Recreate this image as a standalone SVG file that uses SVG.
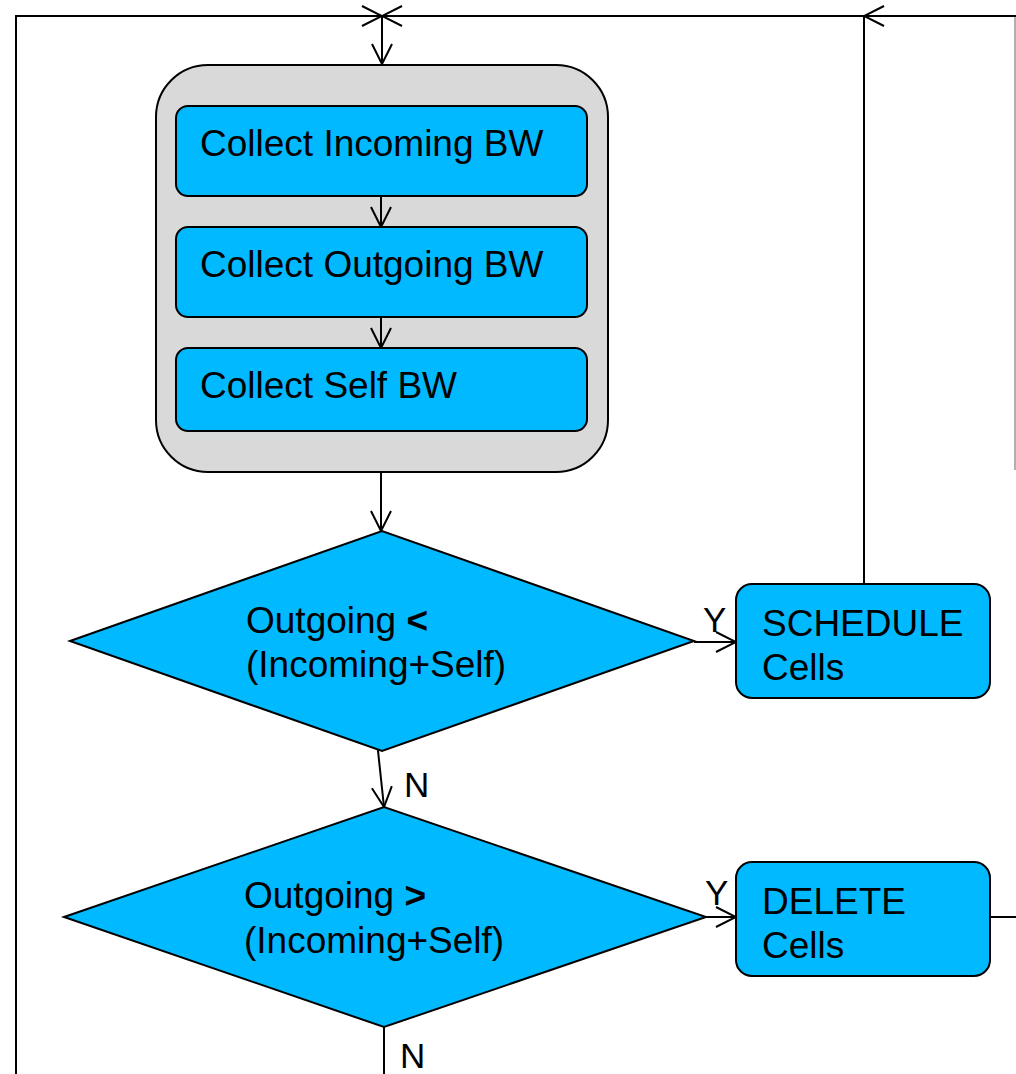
<svg xmlns="http://www.w3.org/2000/svg" width="1016" height="1074" viewBox="0 0 1016 1074">
  <style>
    .box { fill: #00b9ff; stroke: #000; stroke-width: 2; }
    .group { fill: #d9d9d9; stroke: #000; stroke-width: 2; }
    .lbl { font-family: "Liberation Sans", Arial, sans-serif; font-size: 37px; fill: #000; }
    .yn { font-family: "Liberation Sans", Arial, sans-serif; font-size: 35px; fill: #000; }
    .wire { fill: none; stroke: #000; stroke-width: 2; }
    .faint { fill: none; stroke: #b0b0b0; stroke-width: 2; }
  </style>
  <defs>
    <marker id="arrow" viewBox="0 0 22 22" refX="21" refY="11" markerWidth="22" markerHeight="22" markerUnits="userSpaceOnUse" orient="auto">
      <path d="M1,1 L21,11 L1,21" fill="none" stroke="#000" stroke-width="2"/>
    </marker>
  </defs>

  <!-- outer loop connectors -->
  <g id="connectors">
    <!-- loop back on the left -->
    <polyline class="wire" points="16,1074 16,16 382,16" marker-end="url(#arrow)"/>
    <!-- return path from SCHEDULE -->
    <polyline class="wire" points="864,584 864,16 382,16" marker-end="url(#arrow)"/>
    <!-- return path from DELETE -->
    <polyline class="wire" points="990,917 1016,917"/>
    <line class="faint" x1="1015" y1="16" x2="1015" y2="470"/>
    <line class="wire" x1="1016" y1="16" x2="864" y2="16" marker-end="url(#arrow)"/>
    <!-- into the collection stage -->
    <line class="wire" x1="382" y1="16" x2="382" y2="64" marker-end="url(#arrow)"/>
    <line class="wire" x1="381" y1="431" x2="381" y2="531" marker-end="url(#arrow)"/>
    <!-- first decision -->
    <line class="wire" x1="694" y1="642" x2="736" y2="642" marker-end="url(#arrow)"/>
    <text class="yn" x="703" y="632">Y</text>
    <line class="wire" x1="376" y1="732" x2="384" y2="807" marker-end="url(#arrow)"/>
    <text class="yn" x="404" y="797">N</text>
    <!-- second decision -->
    <line class="wire" x1="706" y1="917" x2="736" y2="917" marker-end="url(#arrow)"/>
    <text class="yn" x="705" y="905">Y</text>
    <line class="wire" x1="384" y1="1027" x2="384" y2="1074"/>
    <text class="yn" x="400" y="1068">N</text>
  </g>

  <!-- bandwidth collection stage -->
  <g id="collect-stage">
    <rect class="group" x="156" y="65" width="452" height="407" rx="52" ry="52"/>
  </g>
  <g id="collect-incoming">
    <rect class="box" x="176" y="106" width="411" height="90" rx="12" ry="12"/>
    <text class="lbl" x="200" y="156">Collect Incoming BW</text>
  </g>
  <g id="collect-outgoing">
    <rect class="box" x="176" y="227" width="411" height="90" rx="12" ry="12"/>
    <text class="lbl" x="200" y="277">Collect Outgoing BW</text>
  </g>
  <g id="collect-self">
    <rect class="box" x="176" y="348" width="411" height="83" rx="12" ry="12"/>
    <text class="lbl" x="200" y="398">Collect Self BW</text>
  </g>
  <!-- steps inside the collection stage -->
  <g id="stage-connectors">
    <line class="wire" x1="381" y1="196" x2="381" y2="227" marker-end="url(#arrow)"/>
    <line class="wire" x1="381" y1="317" x2="381" y2="348" marker-end="url(#arrow)"/>
  </g>

  <!-- decisions -->
  <g id="decision-less">
    <polygon class="box" points="70,641 382,531 694,641 382,751"/>
    <text class="lbl" x="246" y="633">Outgoing <tspan font-weight="bold">&lt;</tspan></text>
    <text class="lbl" x="246" y="677">(Incoming+Self)</text>
  </g>
  <g id="decision-greater">
    <polygon class="box" points="64,917 384,807 706,917 384,1027"/>
    <text class="lbl" x="244" y="908">Outgoing <tspan font-weight="bold">&gt;</tspan></text>
    <text class="lbl" x="244" y="953">(Incoming+Self)</text>
  </g>

  <!-- actions -->
  <g id="schedule-cells">
    <rect class="box" x="736" y="584" width="254" height="114" rx="16" ry="16"/>
    <text class="lbl" x="762" y="636">SCHEDULE</text>
    <text class="lbl" x="762" y="680">Cells</text>
  </g>
  <g id="delete-cells">
    <rect class="box" x="736" y="862" width="254" height="114" rx="16" ry="16"/>
    <text class="lbl" x="762" y="914">DELETE</text>
    <text class="lbl" x="762" y="958">Cells</text>
  </g>
</svg>
